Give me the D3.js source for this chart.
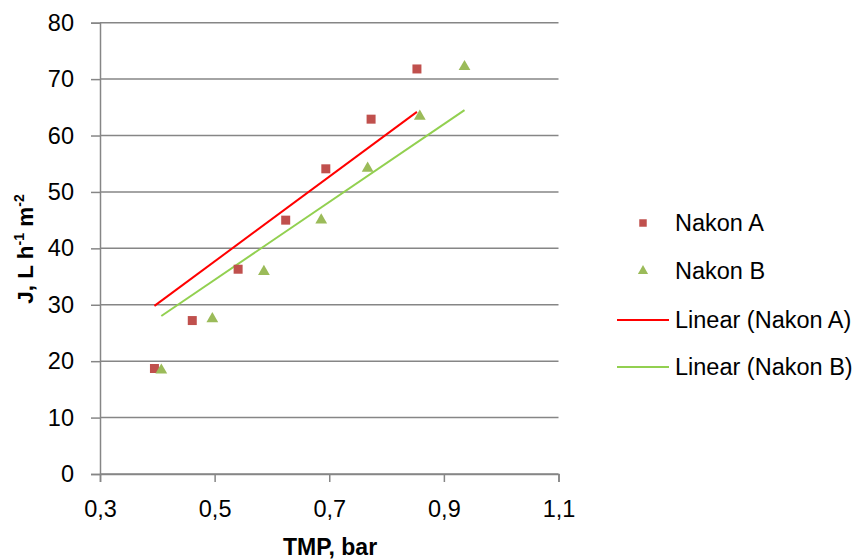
<!DOCTYPE html>
<html><head><meta charset="utf-8">
<script src="https://cdn.jsdelivr.net/npm/d3@7"></script>
<style>body{margin:0;background:#fff}svg text{font-family:"Liberation Sans",Arial,sans-serif}</style>
</head><body><svg id="c" width="856" height="559"></svg>
<script>
const nakonA_x = [0.395,0.461,0.541,0.624,0.694,0.773,0.853];
const nakonA_y = [18.7,27.2,36.3,45.0,54.1,62.9,71.8];
const nakonB_x = [0.407,0.496,0.586,0.686,0.767,0.858,0.936];
const nakonB_y = [18.4,27.5,35.9,45.0,54.2,63.4,72.2];
const trendA_x = [0.395,0.853];
const trendA_y = [29.8,64.2];
const trendB_x = [0.407,0.936];
const trendB_y = [28.0,64.5];
const xTicks = [0.3,0.5,0.7,0.9,1.1];
const yTicks = [0,10,20,30,40,50,60,70,80];
const legendLabels = ["Nakon A","Nakon B","Linear (Nakon A)","Linear (Nakon B)"];

const svg = d3.select("#c");
const x = d3.scaleLinear().domain([0.3,1.1]).range([100,558.5]);
const y = d3.scaleLinear().domain([0,80]).range([474,22.7]);
const fmt = d => d3.format(".1f")(d).replace(".",",");
const grey = "#868686";

// gridlines + y axis
const yAx = svg.append("g").attr("transform","translate(100,0)")
  .call(d3.axisLeft(y).tickValues(yTicks).tickSize(9).tickPadding(17).tickFormat(d3.format("d")));
yAx.select(".domain").attr("stroke",grey).attr("stroke-width",1.5);
yAx.selectAll(".tick line").attr("stroke",grey).attr("stroke-width",1.5);
yAx.selectAll(".tick text").attr("font-size",23.5).attr("fill","#000").attr("font-family","Liberation Sans");
svg.append("g").selectAll("line").data(yTicks).join("line")
  .attr("x1",100).attr("x2",558.5).attr("y1",d=>y(d)).attr("y2",d=>y(d))
  .attr("stroke",grey).attr("stroke-width",1.5);

const xAx = svg.append("g").attr("transform","translate(0,474)")
  .call(d3.axisBottom(x).tickValues(xTicks).tickSize(8).tickPadding(18).tickFormat(fmt));
xAx.select(".domain").attr("stroke",grey).attr("stroke-width",1.5);
xAx.selectAll(".tick line").attr("stroke",grey).attr("stroke-width",1.5);
xAx.selectAll(".tick text").attr("font-size",23.5).attr("fill","#000").attr("font-family","Liberation Sans");

// trend lines
const line = d3.line().x(d=>x(d[0])).y(d=>y(d[1]));
svg.append("path").datum(d3.zip(trendA_x,trendA_y)).attr("d",line).attr("stroke","#FF0000").attr("stroke-width",2).attr("fill","none");
svg.append("path").datum(d3.zip(trendB_x,trendB_y)).attr("d",line).attr("stroke","#92D050").attr("stroke-width",2).attr("fill","none");

// markers
const sq = d3.symbol().type(d3.symbolSquare).size(81);
const tri = d3.symbol().type(d3.symbolTriangle).size(60);
svg.append("g").selectAll("path").data(d3.zip(nakonA_x,nakonA_y)).join("path")
  .attr("d",sq).attr("transform",d=>`translate(${x(d[0])},${y(d[1])})`).attr("fill","#C0504D");
svg.append("g").selectAll("path").data(d3.zip(nakonB_x,nakonB_y)).join("path")
  .attr("d",tri).attr("transform",d=>`translate(${x(d[0])},${y(d[1])})`).attr("fill","#9BBB59");

// axis titles
svg.append("text").attr("x",330).attr("y",555).attr("text-anchor","middle")
  .attr("font-size",23).attr("font-weight","bold").text("TMP, bar");
const yt = svg.append("text").attr("transform","translate(33,249) rotate(-90)")
  .attr("text-anchor","middle").attr("font-size",22.5).attr("font-weight","bold");
yt.append("tspan").text("J, L h");
yt.append("tspan").attr("font-size",14).attr("dy",-9).text("-1");
yt.append("tspan").attr("dy",9).text(" m");
yt.append("tspan").attr("font-size",14).attr("dy",-9).text("-2");

// legend
const ly = [223,271,320,367];
const lg = svg.append("g");
lg.append("path").attr("d",d3.symbol().type(d3.symbolSquare).size(56)).attr("transform",`translate(643,${ly[0]})`).attr("fill","#C0504D");
lg.append("path").attr("d",d3.symbol().type(d3.symbolTriangle).size(45)).attr("transform",`translate(643,${ly[1]})`).attr("fill","#9BBB59");
lg.append("line").attr("x1",617).attr("x2",669).attr("y1",ly[2]).attr("y2",ly[2]).attr("stroke","#FF0000").attr("stroke-width",2);
lg.append("line").attr("x1",617).attr("x2",669).attr("y1",ly[3]).attr("y2",ly[3]).attr("stroke","#92D050").attr("stroke-width",2);
lg.selectAll("text").data(legendLabels).join("text")
  .attr("x",675).attr("y",(d,i)=>ly[i]+8).attr("font-size",23.5).text(d=>d);
</script></body></html>
